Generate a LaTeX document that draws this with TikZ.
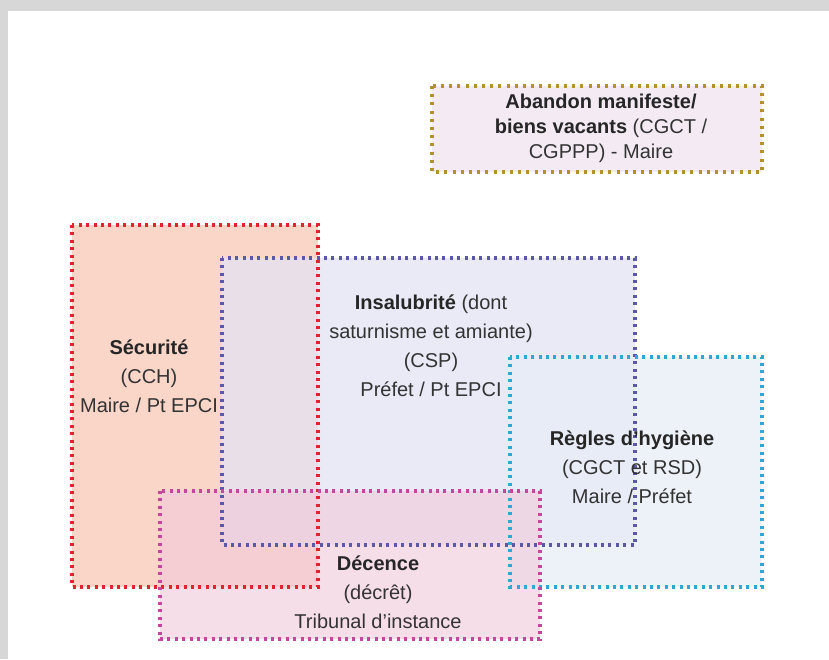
\documentclass[tikz,border=0pt]{standalone}
\usepackage{fontspec}
\setmainfont{Liberation Sans}
\usepackage{tikz}

\definecolor{bggray}{HTML}{D7D7D7}
\definecolor{txtgray}{HTML}{333333}
\definecolor{abandonline}{HTML}{B3922C}
\definecolor{abandonfill}{HTML}{F3EAF4}
\definecolor{securiteline}{HTML}{E0242E}
\definecolor{securitefill}{HTML}{FAD6C9}
\definecolor{insalline}{HTML}{5C58A8}
\definecolor{insalfill}{HTML}{E4E3F3}
\definecolor{hygieneline}{HTML}{2EA8D3}
\definecolor{hygienefill}{HTML}{E6EDF7}
\definecolor{decenceline}{HTML}{C5479D}
\definecolor{decencefill}{HTML}{F1C9D9}

\tikzset{
	dotline/.style={line width=3.2pt, dash pattern=on 3pt off 4.4pt},
	label/.style={align=center, text=txtgray, inner sep=0pt,
		font=\fontsize{20}{29}\selectfont},
}

\begin{document}
\begin{tikzpicture}[x=1pt, y=-1pt]

	\useasboundingbox (0,0) rectangle (829,659);
	\fill[bggray] (0,0) rectangle (829,659);
	\fill[white] (8,11) rectangle (829,659);

	% fills
	\fill[abandonfill] (432,86) rectangle (762,172);
	\fill[securitefill] (72,225) rectangle (318,587);
	\fill[insalfill, fill opacity=0.75] (222,258) rectangle (635,545);
	\fill[hygienefill, fill opacity=0.7] (510,357) rectangle (762,587);
	\fill[decencefill, fill opacity=0.6] (160,491) rectangle (540,639);

	% dotted borders
	\draw[dotline, abandonline, dash pattern=on 3pt off 5.2pt] (432,86) rectangle (762,172);
	\draw[dotline, securiteline] (72,225) rectangle (318,587);
	\draw[dotline, insalline] (222,258) rectangle (635,545);
	\draw[dotline, hygieneline] (510,357) rectangle (762,587);
	\draw[dotline, decenceline] (160,491) rectangle (540,639);

	% texts
	\node[label, font=\fontsize{20}{25}\selectfont] (abandon) at (601,128)
		{\textbf{\color{black!85}Abandon manifeste/}\\
		 \textbf{\color{black!85}biens vacants} (CGCT /\\
		 CGPPP) - Maire};
	\node[label] (securite) at (149,376)
		{\textbf{\color{black!85}Sécurité}\\(CCH)\\Maire / Pt EPCI};
	\node[label] (insalubrite) at (431,346)
		{\textbf{\color{black!85}Insalubrité} (dont\\saturnisme et amiante)\\(CSP)\\Préfet / Pt EPCI};
	\node[label] (hygiene) at (632,467)
		{\textbf{\color{black!85}Règles d'hygiène}\\(CGCT et RSD)\\Maire / Préfet};
	\node[label] (decence) at (378,592)
		{\textbf{\color{black!85}Décence}\\(décrêt)\\Tribunal d'instance};

\end{tikzpicture}
\end{document}
